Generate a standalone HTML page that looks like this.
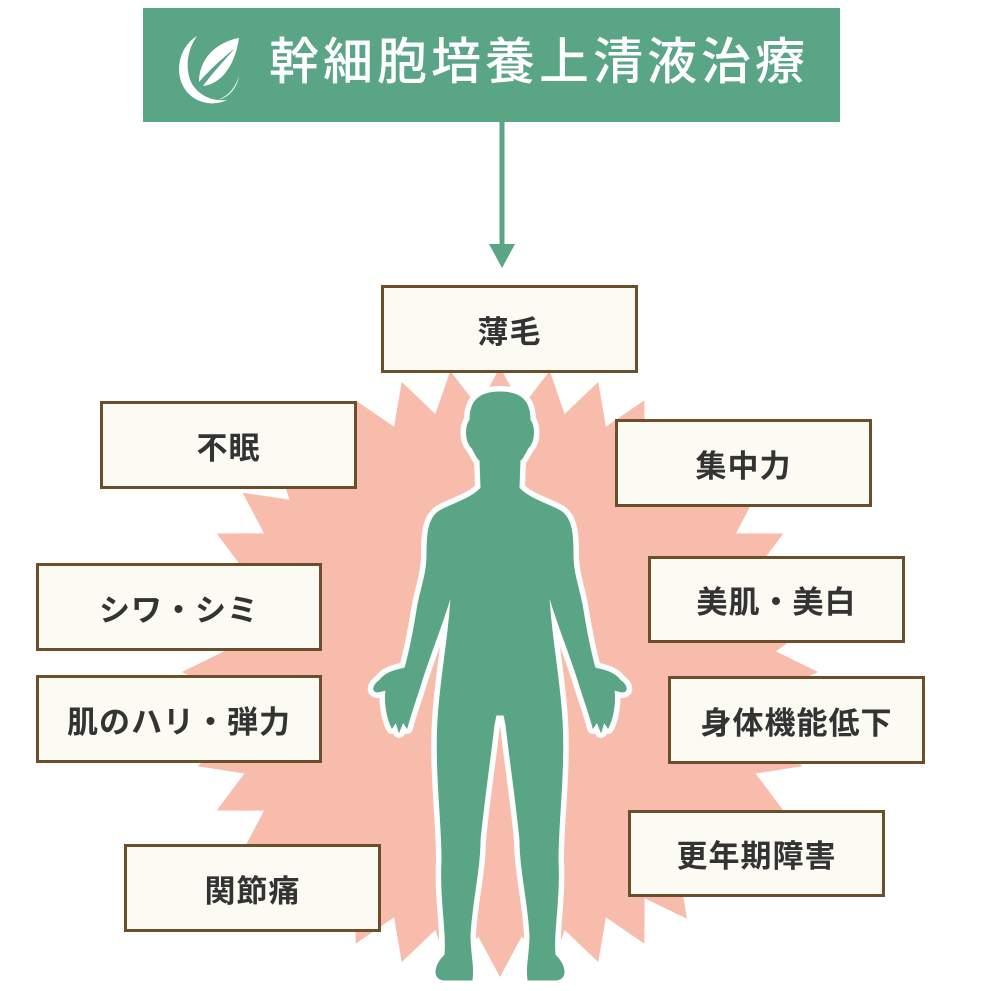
<!DOCTYPE html>
<html><head><meta charset="utf-8"><style>
html,body{margin:0;padding:0;background:#fff;}
body{width:1006px;height:991px;position:relative;overflow:hidden;font-family:"Liberation Sans","Noto Sans CJK JP",sans-serif;}
svg{position:absolute;left:0;top:0;}
.b{position:absolute;box-sizing:border-box;background:#fbfaf3;border:3px solid #6b4f2a;display:flex;align-items:center;justify-content:center;font-weight:bold;font-size:31px;color:#333;letter-spacing:1px;}
.h{position:absolute;left:143px;top:8px;width:697px;height:114px;background:#5aa585;color:#fff;font-size:50px;font-weight:500;}
.h span{position:absolute;left:126px;top:24px;letter-spacing:4px;line-height:60px;white-space:nowrap;}
</style></head><body>
<svg width="1006" height="991" viewBox="0 0 1006 991">
<polygon id="star" fill="#f7bcab"/>
<line x1="502" y1="122" x2="502" y2="248" stroke="#5aa585" stroke-width="5"/>
<polygon points="489,244 515,244 502,268" fill="#5aa585"/>
<defs>
<path id="hb" d="M500,392 C478,392 470,402 470,420 C466,425 464,440 472,448 C476,455 478,460 480,460 L481,488 C470,500 448,505 438,512 C428,520 427,535 427,555 C427,575 420,590 417,610 C413,635 410,650 405,668 C396,670 386,672 380,680 C372,686 372,692 378,692 L386,690 C384,705 388,720 392,728 L396,722 L399,732 L403,722 L407,728 C410,715 416,700 422,680 C430,655 440,630 448,605 L451,595 C450,630 440,680 438,720 C435,770 442,820 442,860 C440,900 447,930 445,955 C434,965 432,980 445,980 L472,980 C474,965 470,955 470,935 C472,900 480,870 480,840 C484,800 490,760 494,725 L496,715 L500,715 Z"/>
</defs>
<g stroke="#fff" stroke-width="12" stroke-linejoin="round" fill="#fff">
<use href="#hb"/><use href="#hb" transform="translate(1000,0) scale(-1,1)"/>
</g>
<g fill="#5aa585" stroke="#5aa585" stroke-width="1">
<use href="#hb"/><use href="#hb" transform="translate(1000,0) scale(-1,1)"/>
</g>
</svg>
<div class="h"><svg width="80" height="80" viewBox="0 0 80 80" style="left:28px;top:20px">
<path d="M26,8 C6,20 2,50 18,66 C28,76 44,78 56,72 C40,74 26,66 20,54 C14,40 16,22 26,8Z" fill="#fff"/>
<path d="M68,10 C46,14 28,30 28,54 C40,40 52,30 64,20 C54,32 42,44 32,58 C50,56 64,38 68,10Z" fill="#fff"/>
<path d="M68,48 C66,60 58,70 46,72 C58,68 64,60 68,48Z" fill="#fff"/>
</svg><span>幹細胞培養上清液治療</span></div>
<div class="b" style="left:381px;top:285px;width:257px;height:88px">薄毛</div>
<div class="b" style="left:100px;top:401px;width:257px;height:88px">不眠</div>
<div class="b" style="left:615px;top:419px;width:257px;height:88px">集中力</div>
<div class="b" style="left:36px;top:563px;width:286px;height:88px">シワ・シミ</div>
<div class="b" style="left:648px;top:556px;width:257px;height:87px">美肌・美白</div>
<div class="b" style="left:36px;top:675px;width:286px;height:88px">肌のハリ・弾力</div>
<div class="b" style="left:668px;top:676px;width:257px;height:88px">身体機能低下</div>
<div class="b" style="left:124px;top:844px;width:257px;height:88px">関節痛</div>
<div class="b" style="left:628px;top:810px;width:257px;height:87px">更年期障害</div>
<script>
(function(){var cx=500,cy=672,rx=318,ry=305,n=40,p=[];
for(var i=0;i<n*2;i++){var a=Math.PI*i/n - Math.PI/2;var r=i%2?0.87:1;
p.push((cx+Math.cos(a)*rx*r).toFixed(1)+","+(cy+Math.sin(a)*ry*r).toFixed(1));}
document.getElementById('star').setAttribute('points',p.join(' '));})();
</script>
</body></html>
